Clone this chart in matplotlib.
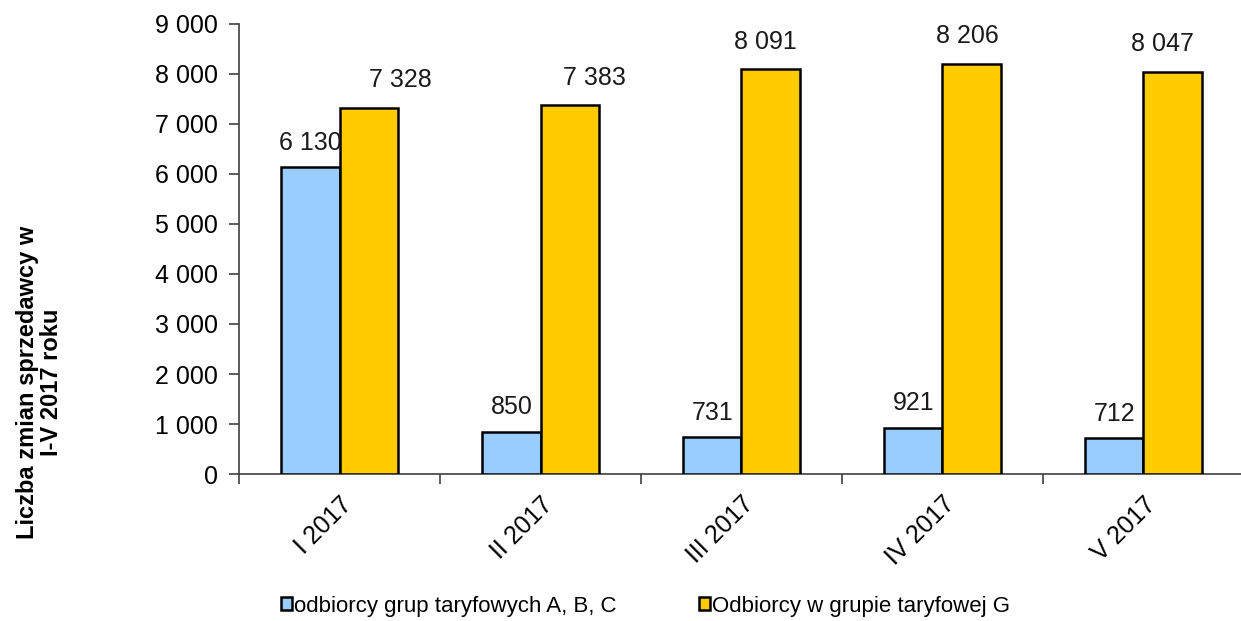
import matplotlib.pyplot as plt
import numpy as np

plt.rcParams['font.family'] = ['Liberation Sans', 'DejaVu Sans']

# dane
miesiace = ['I 2017', 'II 2017', 'III 2017', 'IV 2017', 'V 2017']
grupy_abc = [6130, 850, 731, 921, 712]
grupa_g = [7328, 7383, 8091, 8206, 8047]
seria_nazwy = ['odbiorcy grup taryfowych A, B, C', 'Odbiorcy w grupie taryfowej G']

# reczne przesuniecia etykiet serii G (w punktach), jak w oryginale
przes_g = [23, 18, -4, -3, -7]


def fmt(v):
    return f'{v:,}'.replace(',', ' ')


fig = plt.figure(figsize=(12.41, 6.21), dpi=100)
ax = fig.add_axes([0.1926, 0.2367, 0.8098, 0.7247])

x = np.arange(len(miesiace))
w = 0.29
b1 = ax.bar(x - w / 2, grupy_abc, w, color='#99CCFF', edgecolor='black', linewidth=1.8,
            label=seria_nazwy[0], zorder=3)
b2 = ax.bar(x + w / 2, grupa_g, w, color='#FFCC00', edgecolor='black', linewidth=1.8,
            label=seria_nazwy[1], zorder=3)

for r, v in zip(b1, grupy_abc):
    ax.annotate(fmt(v), xy=(r.get_x() + r.get_width() / 2, v), xytext=(0, 9),
                textcoords='offset points', ha='center', va='bottom', fontsize=18,
                color='#1a1a1a', zorder=5)
for r, v, dx in zip(b2, grupa_g, przes_g):
    ax.annotate(fmt(v), xy=(r.get_x() + r.get_width() / 2, v), xytext=(dx, 11),
                textcoords='offset points', ha='center', va='bottom', fontsize=18,
                color='#1a1a1a', zorder=5)

ax.set_ylim(0, 9000)
ax.set_yticks(range(0, 9001, 1000))
ax.set_yticklabels([fmt(v) for v in range(0, 9001, 1000)], fontsize=18)
ax.set_xlim(-0.5, len(miesiace) - 0.5)

# ticki osi x na granicach kategorii, etykiety w srodku
ax.set_xticks(np.arange(len(miesiace) + 1) - 0.5)
ax.set_xticklabels([])
ax.set_xticks(x, minor=True)
ax.set_xticklabels(miesiace, minor=True, rotation=45, ha='right', va='top',
                   rotation_mode='anchor', fontsize=18)
ax.tick_params(axis='x', which='minor', length=0, pad=13)
ax.tick_params(axis='x', which='major', length=7, width=1.2, color='#404040')
ax.tick_params(axis='y', length=7, width=1.2, color='#404040', pad=8)

for s in ['top', 'right']:
    ax.spines[s].set_visible(False)
for s in ['left', 'bottom']:
    ax.spines[s].set_color('#404040')
    ax.spines[s].set_linewidth(1.2)

fig.text(0.032, 0.385, 'Liczba zmian sprzedawcy w\nI-V 2017 roku', rotation=90,
         ha='center', va='center', fontsize=17, fontweight='bold', linespacing=1.05)

fig.legend(handles=[b1, b2], loc='center', bbox_to_anchor=(0.52, 0.024), ncol=2,
           frameon=False, fontsize=16, handlelength=0.5, handleheight=0.5,
           handletextpad=0.1, columnspacing=3.7)

fig.savefig('out.png', dpi=100)
